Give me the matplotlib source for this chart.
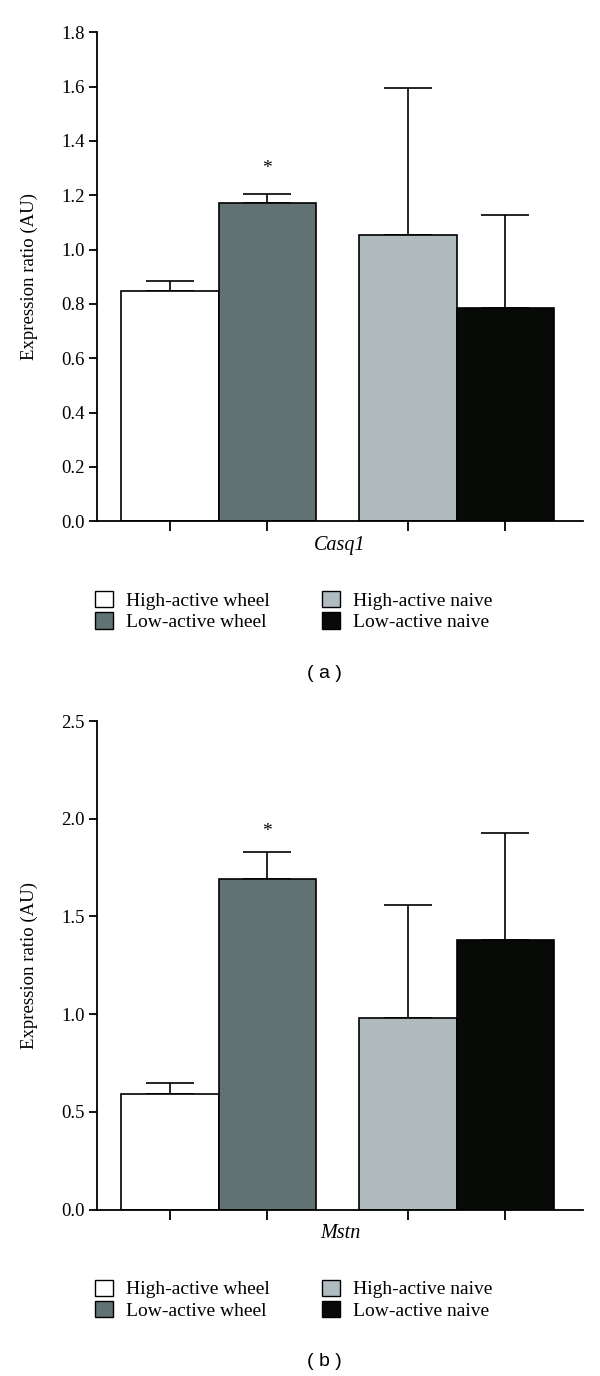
import matplotlib
matplotlib.use("Agg")
import matplotlib.pyplot as plt
from matplotlib.patches import Patch

# groups / colours
groups = ["High-active wheel", "Low-active wheel", "High-active naive", "Low-active naive"]
colors = ["#ffffff", "#627273", "#b0bbbf", "#080a08"]
bar_pos = [0.75, 1.75, 3.2, 4.2]

# panel a: Casq1
casq1_mean = [0.849, 1.170, 1.055, 0.785]
casq1_err = [0.035, 0.036, 0.539, 0.342]
casq1_ticks = [0.0, 0.2, 0.4, 0.6, 0.8, 1.0, 1.2, 1.4, 1.6, 1.8]

# panel b: Mstn
mstn_mean = [0.593, 1.690, 0.981, 1.380]
mstn_err = [0.055, 0.138, 0.578, 0.549]
mstn_ticks = [0.0, 0.5, 1.0, 1.5, 2.0, 2.5]

sig_index = 1  # bar with the asterisk

serif = ["Liberation Serif", "DejaVu Serif"]
plt.rcParams["font.family"] = serif

fig = plt.figure(figsize=(6.0, 13.76), dpi=100)
W, H = 600.0, 1376.0


def panel(top_px, bottom_px, means, errs, ticks, gene, tag, star_off):
    left_px, right_px = 97.0, 583.0
    ax = fig.add_axes([left_px / W, 1 - bottom_px / H,
                       (right_px - left_px) / W, (bottom_px - top_px) / H])
    ax.bar(bar_pos, means, width=1.0, color=colors, edgecolor="black",
           linewidth=1.2, zorder=2)
    ax.errorbar(bar_pos, means, yerr=[[0] * len(errs), errs], fmt="none",
                ecolor="black", elinewidth=1.2, capsize=17, capthick=1.2, zorder=1)
    ax.annotate("*", (bar_pos[sig_index], means[sig_index] + errs[sig_index]),
                xytext=(0, star_off), textcoords="offset points",
                ha="center", va="bottom", fontsize=14)
    ax.set_xlim(0, 5)
    ax.set_ylim(ticks[0], ticks[-1])
    ax.set_yticks(ticks)
    ax.set_yticklabels([f"{t:.1f}" for t in ticks], fontsize=13.5)
    ax.set_xticks(bar_pos)
    ax.set_xticklabels([])
    for s in ("top", "right"):
        ax.spines[s].set_visible(False)
    for s in ("left", "bottom"):
        ax.spines[s].set_linewidth(1.3)
    ax.tick_params(axis="y", direction="out", length=6, width=1.3, pad=3)
    ax.tick_params(axis="x", direction="out", length=7, width=1.3)
    ax.set_ylabel("Expression ratio (AU)", fontsize=13.5)
    ax.yaxis.set_label_coords(-0.121, 0.5)
    ax.set_xlabel(gene, fontsize=14.5, style="italic", va="top")
    ax.xaxis.set_label_coords(0.5, -0.03)

    handles = [Patch(facecolor=c, edgecolor="black", linewidth=1.0) for c in colors]
    fig.legend(handles, groups, loc="upper left",
               bbox_to_anchor=(95 / W, 1 - (bottom_px + 70) / H),
               ncol=2, frameon=False, fontsize=14, borderpad=0, borderaxespad=0,
               handlelength=0.9, handleheight=0.9, handletextpad=0.7,
               labelspacing=0.12, columnspacing=2.7)
    fig.text(324 / W, 1 - (bottom_px + 152) / H, tag, ha="center", va="center",
             fontsize=14, family=["Liberation Sans", "DejaVu Sans"])
    return ax


panel(32.3, 521.3, casq1_mean, casq1_err, casq1_ticks, "Casq1", "( a )", 12)
panel(721.0, 1209.7, mstn_mean, mstn_err, mstn_ticks, "Mstn", "( b )", 9)

fig.savefig("out.png", dpi=100, facecolor="white")
